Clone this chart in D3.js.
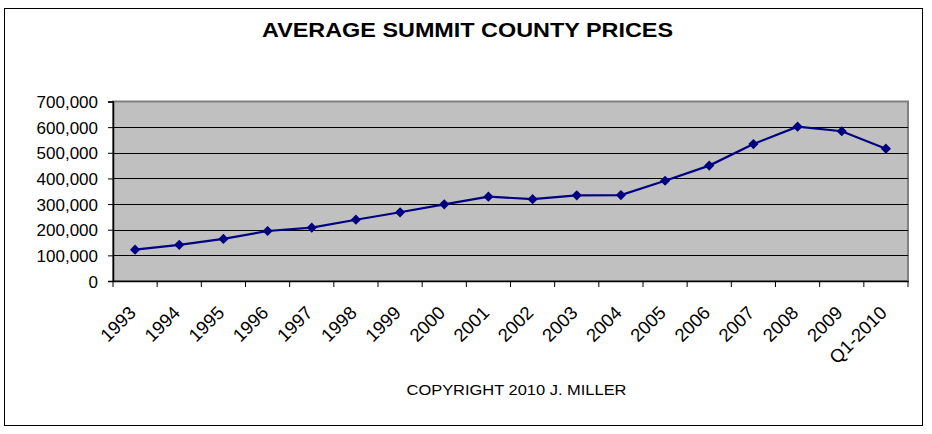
<!DOCTYPE html>
<html><head><meta charset="utf-8">
<script src="https://cdn.jsdelivr.net/npm/d3@7"></script>
<style>body{margin:0;background:#fff}svg{display:block}text{font-family:Arial,"Liberation Sans",sans-serif}</style>
</head><body>
<svg id="c" width="932" height="434"></svg>
<script>
const categories = ["1993","1994","1995","1996","1997","1998","1999","2000","2001","2002","2003","2004","2005","2006","2007","2008","2009","Q1-2010"];
const prices = [122000,141000,164000,195000,208000,239000,268000,299000,329000,319000,334000,335000,391000,450000,534000,602000,584000,516000];
const yTicks = [0,100000,200000,300000,400000,500000,600000,700000];
const titleText = "AVERAGE SUMMIT COUNTY PRICES";
const footerText = "COPYRIGHT 2010 J. MILLER";

const svg = d3.select("#c");
const L = 113, R = 908, T = 101.5, B = 281;
svg.append("rect").attr("x",4.5).attr("y",8.5).attr("width",918).attr("height",417).attr("fill","#fff").attr("stroke","#000").attr("stroke-width",1);

const x = d3.scaleBand().domain(categories).range([L,R]).padding(0);
const y = d3.scaleLinear().domain([0,700000]).range([B,T]);

svg.append("rect").attr("x",L).attr("y",T).attr("width",R-L).attr("height",B-T).attr("fill","#c0c0c0").attr("stroke","#808080").attr("stroke-width",2);

// gridlines
svg.append("g").selectAll("line").data(yTicks.slice(1,-1)).join("line")
  .attr("x1",L).attr("x2",R).attr("y1",d=>Math.round(y(d))+0.5).attr("y2",d=>Math.round(y(d))+0.5)
  .attr("stroke","#000").attr("stroke-width",1);

// y axis
const fmt = d3.format(",");
const ya = svg.append("g").attr("transform",`translate(${L},0)`)
  .call(d3.axisLeft(y).tickValues(yTicks).tickFormat(d=>fmt(d)).tickSize(5).tickPadding(10));
ya.select(".domain").attr("stroke","#000").attr("stroke-width",1.5);
ya.selectAll("line").attr("stroke","#000");
ya.selectAll("text").attr("font-size",17).attr("fill","#000").attr("font-family","Arial,'Liberation Sans',sans-serif").attr("dy","0.36em");

// x axis
const xa = svg.append("g").attr("transform",`translate(0,${B})`)
  .call(d3.axisBottom(x).tickSize(0).tickFormat(""));
xa.select(".domain").attr("stroke","#000").attr("stroke-width",1.5);
const bounds = categories.map(c=>x(c)).concat([R]);
svg.append("g").selectAll("line").data(bounds).join("line")
  .attr("x1",d=>d).attr("x2",d=>d).attr("y1",B).attr("y2",B+6).attr("stroke","#000");
svg.append("g").selectAll("text").data(categories).join("text")
  .attr("transform",d=>`translate(${x(d)+x.bandwidth()/2+2},${B+33}) rotate(-45)`)
  .attr("text-anchor","end").attr("font-size",18.5).attr("fill","#000").text(d=>d);

// line
const cx = d=>x(d)+x.bandwidth()/2;
svg.append("path").datum(prices).attr("fill","none").attr("stroke","#000080").attr("stroke-width",2.2)
  .attr("d",d3.line().x((d,i)=>cx(categories[i])).y(d=>y(d)));
svg.append("g").selectAll("path").data(prices).join("path")
  .attr("d",d3.symbol(d3.symbolSquare,52)())
  .attr("transform",(d,i)=>`translate(${cx(categories[i])},${y(d)}) rotate(45)`)
  .attr("fill","#000080");

svg.append("text").attr("x",467.5).attr("y",37).attr("text-anchor","middle").attr("font-size",20.5).attr("font-weight","bold").attr("fill","#000")
  .attr("textLength",411).attr("lengthAdjust","spacingAndGlyphs").text(titleText);
svg.append("text").attr("x",516.5).attr("y",395).attr("text-anchor","middle").attr("font-size",14.5).attr("fill","#000")
  .attr("textLength",220).attr("lengthAdjust","spacingAndGlyphs").text(footerText);
</script>
</body></html>
